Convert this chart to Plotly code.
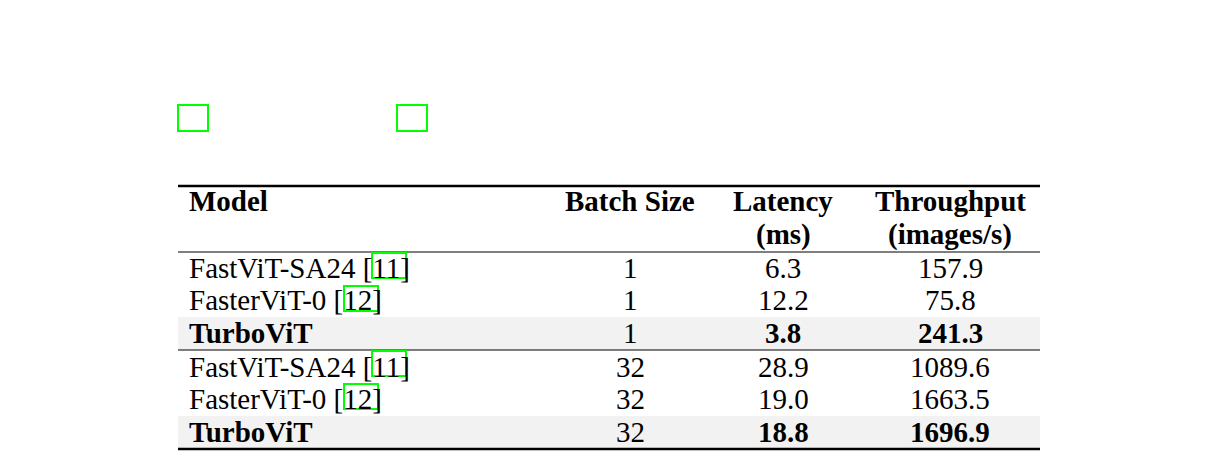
import plotly.graph_objects as go

caption = [
    "Table 2: Results for inference latency and throughput of TurboViT for two different scenarios (low-",
    "latency processing (batch size of 1) and batch processing (batch size of 32) for 224×224 sized",
    "RGB image input in comparison to 2 state-of-the-art efficient vision transformer architecture designs",
    "(FastViT-SA24 [11] and FasterViT-0 [12]). All evaluations were conducted on an Nvidia RTX A6000",
    "GPU for <i>N</i> = 1000 runs. Best results are in <b>bold</b>.",
]
headers = [["Model"], ["Batch Size"], ["Latency", "(ms)"], ["Throughput", "(images/s)"]]
models = ["FastViT-SA24 [11]", "FasterViT-0 [12]", "TurboViT", "FastViT-SA24 [11]", "FasterViT-0 [12]", "TurboViT"]
batch = ["1", "1", "1", "32", "32", "32"]
latency = ["6.3", "12.2", "3.8", "28.9", "19.0", "18.8"]
throughput = ["157.9", "75.8", "241.3", "1089.6", "1663.5", "1696.9"]
bold_rows = [2, 5]

FONT = "Liberation Serif"
fig = go.Figure()
ann = []
shapes = []
cap_y = [17, 51, 85, 118, 152]
for t, y in zip(caption, cap_y):
    ann.append(dict(x=4, y=y, text=t, xanchor="left", yanchor="middle", font=dict(size=29)))

col_x = [187, 630, 783, 950]
for i, h in enumerate(headers):
    for j, line in enumerate(h):
        ann.append(dict(x=col_x[i], y=201 + 33 * j, text=f"<b>{line}</b>",
                        xanchor="left" if i == 0 else "center", yanchor="middle", font=dict(size=29)))

row_y = [268, 300, 333, 367, 399, 432]
row_top = [253, 285, 317, 351, 383, 416]
for r in range(6):
    if r in bold_rows:
        shapes.append(dict(type="rect", x0=178, x1=1040, y0=row_top[r], y1=row_top[r] + 33,
                           fillcolor="#f2f2f2", line_width=0, layer="below"))
    vals = [models[r], batch[r], latency[r], throughput[r]]
    for i, v in enumerate(vals):
        txt = f"<b>{v}</b>" if (r in bold_rows and i != 1) else v
        ann.append(dict(x=col_x[i], y=row_y[r], text=txt,
                        xanchor="left" if i == 0 else "center", yanchor="middle", font=dict(size=29)))

for y, w in [(186, 2.5), (252, 1.2), (350, 1.2), (449, 2.5)]:
    shapes.append(dict(type="line", x0=178, x1=1040, y0=y, y1=y, line=dict(color="black", width=w)))

# citation boxes
for (x0, x1, y0, y1) in [(372, 406, 253, 278), (344, 378, 286, 311),
                         (372, 406, 351, 376), (344, 378, 384, 409),
                         (178, 208, 105, 131), (397, 427, 105, 131)]:
    shapes.append(dict(type="rect", x0=x0, x1=x1, y0=y0, y1=y1, line=dict(color="#00ff00", width=2)))

# page body has 8px margin: offset axis ranges to compensate
fig.update_layout(
    width=1214, height=461, margin=dict(l=0, r=0, t=0, b=0),
    paper_bgcolor="white", plot_bgcolor="white",
    font=dict(family=FONT, color="black"),
    xaxis=dict(range=[8, 1222], visible=False, fixedrange=True),
    yaxis=dict(range=[469, 8], visible=False, fixedrange=True),
    annotations=[dict(a, showarrow=False, xref="x", yref="y") for a in ann],
    shapes=[dict(s, xref="x", yref="y") for s in shapes],
    showlegend=False,
)
fig.write_html("out.html", config={"displayModeBar": False})
